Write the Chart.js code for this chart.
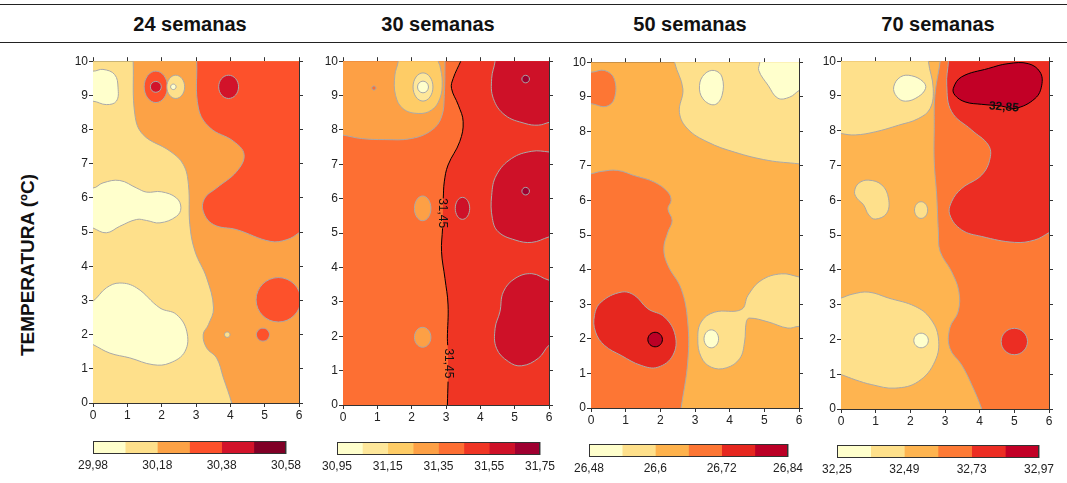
<!DOCTYPE html>
<html>
<head>
<meta charset="utf-8">
<script src="https://cdn.jsdelivr.net/npm/chart.js@4.4.0/dist/chart.umd.min.js"></script>
<style>
  body { margin: 0; width: 1067px; height: 483px; background: #fff; position: relative; overflow: hidden; font-family: 'Liberation Sans', Arial, sans-serif; }
  .rule { position: absolute; left: 0; width: 1067px; height: 0; border-top: 1.6px solid #222; }
  .title { position: absolute; top: 13px; width: 200px; text-align: center; font-weight: bold; font-size: 20px; color: #111; }
  .ylab { position: absolute; left: -82px; top: 253px; width: 220px; height: 24px; line-height: 24px; text-align: center; font-weight: bold; font-size: 19px; color: #111; transform: rotate(-90deg); }
  canvas { position: absolute; }
</style>
</head>
<body>
<div class="rule" style="top:4px"></div>
<div class="rule" style="top:42px"></div>
<div class="title" style="left:90px">24 semanas</div>
<div class="title" style="left:338px">30 semanas</div>
<div class="title" style="left:590px">50 semanas</div>
<div class="title" style="left:838px">70 semanas</div>
<div class="ylab">TEMPERATURA (ºC)</div>

<script>
// ---- data -------------------------------------------------------------
const xTicks = [0, 1, 2, 3, 4, 5, 6];
const yTicks = [0, 1, 2, 3, 4, 5, 6, 7, 8, 9, 10];

// 24 semanas
const levels24 = [29.98, 30.08, 30.18, 30.28, 30.38, 30.48, 30.58];
const labels24 = ['29,98', '', '30,18', '', '30,38', '', '30,58'];
const colors24 = ['#ffffcc', '#fee08b', '#fca246', '#fd512b', '#d2132a', '#800026'];
const dark24 = [30.48];
const regions24 = [
  { lvl: 1, kind: 'rect', pts: [[-1, -1], [7, -1], [7, 11], [-1, 11]] },
  { lvl: 2, kind: 'open', pts: [[1.15, 10.5], [1.17, 10], [1.22, 8.44], [1.46, 7.85], [2.24, 7.37], [2.63, 6.98], [2.78, 6.39], [2.82, 5.22], [2.97, 4.44], [3.31, 3.66], [3.51, 2.78], [3.36, 2.29], [3.21, 2.0], [3.31, 1.61], [3.60, 1.32], [3.80, 0.73], [4.04, 0], [4.12, -0.4], [6.6, -0.6], [6.6, 10.6]] },
  { lvl: 3, kind: 'open', pts: [[3.0, 10.5], [3.02, 10], [3.07, 8.63], [3.41, 8.05], [4.09, 7.66], [4.40, 7.27], [4.19, 6.78], [3.60, 6.29], [3.26, 6.0], [3.21, 5.61], [3.51, 5.22], [4.19, 5.07], [5.16, 4.73], [5.65, 4.78], [6, 4.98], [6.4, 5.3], [6.6, 10.6]] },
  { lvl: 3, kind: 'oval', pts: [[4.75, 3.02], [5.40, 3.67], [6.05, 3.02], [5.40, 2.37]] },
  { lvl: 3, kind: 'oval', pts: [[4.76, 2.0], [4.95, 2.19], [5.14, 2.0], [4.95, 1.81]] },
  { lvl: 1, kind: 'oval', pts: [[3.83, 2.0], [3.91, 2.08], [3.99, 2.0], [3.91, 1.92]] },
  { lvl: 3, kind: 'oval', pts: [[1.49, 9.25], [1.83, 9.71], [2.17, 9.25], [1.83, 8.79]] },
  { lvl: 4, kind: 'oval', pts: [[1.67, 9.25], [1.83, 9.41], [1.99, 9.25], [1.83, 9.09]] },
  { lvl: 1, kind: 'oval', pts: [[2.15, 9.25], [2.41, 9.59], [2.67, 9.25], [2.41, 8.91]] },
  { lvl: 0, kind: 'oval', pts: [[2.26, 9.25], [2.34, 9.33], [2.42, 9.25], [2.34, 9.17]] },
  { lvl: 4, kind: 'oval', pts: [[3.66, 9.25], [3.95, 9.59], [4.24, 9.25], [3.95, 8.91]] },
  { lvl: 0, kind: 'open', pts: [[-0.4, 9.8], [0, 9.71], [0.29, 9.76], [0.63, 9.61], [0.73, 9.22], [0.68, 8.83], [0.39, 8.73], [0, 8.83], [-0.4, 8.8]] },
  { lvl: 0, kind: 'open', pts: [[-0.4, 6.4], [0, 6.29], [0.29, 6.44], [0.78, 6.51], [1.27, 6.29], [1.56, 6.17], [1.99, 6.18], [2.43, 6.0], [2.56, 5.71], [2.43, 5.46], [1.95, 5.27], [1.56, 5.34], [1.27, 5.37], [0.78, 5.17], [0.39, 4.98], [0, 5.12], [-0.4, 5.3]] },
  { lvl: 0, kind: 'open', pts: [[-0.4, 2.8], [0, 2.98], [0.39, 3.37], [0.78, 3.51], [1.27, 3.37], [1.95, 2.78], [2.43, 2.59], [2.73, 2.10], [2.68, 1.51], [2.24, 1.17], [1.75, 1.12], [1.07, 1.32], [0.49, 1.46], [0, 1.71], [-0.4, 1.9]] }
];
const text24 = [];

// 30 semanas
const levels30 = [30.95, 31.05, 31.15, 31.25, 31.35, 31.45, 31.55, 31.65, 31.75];
const labels30 = ['30,95', '', '31,15', '', '31,35', '', '31,55', '', '31,75'];
const colors30 = ['#ffffcc', '#fee79a', '#fecc66', '#fda045', '#fd6f33', '#ef3524', '#ce1128', '#9e0030'];
const dark30 = [31.45];
const line3145a = [[3.43, 10], [3.21, 9.5], [3.16, 9.21], [3.36, 8.72], [3.50, 8.24], [3.40, 7.66], [3.06, 6.98], [2.95, 6.49], [2.92, 6.01]];
const line3145b = [[2.90, 5.14], [2.87, 4.46], [2.97, 3.68], [3.06, 2.91], [3.04, 1.94], [3.05, 1.74]];
const line3145c = [[3.06, 0.68], [3.04, 0]];
const regions30 = [
  { lvl: 4, kind: 'rect', pts: [[-1, -1], [7, -1], [7, 11], [-1, 11]] },
  { lvl: 3, kind: 'open', pts: [[-0.4, 7.9], [0, 7.85], [0.54, 7.75], [1.22, 7.72], [1.99, 7.75], [2.58, 7.99], [2.87, 8.38], [2.95, 9.01], [2.97, 10], [2.97, 10.5], [-0.5, 10.5]] },
  { lvl: 2, kind: 'open', pts: [[1.62, 10.4], [1.61, 10], [1.51, 9.59], [1.53, 9.01], [1.75, 8.62], [2.19, 8.48], [2.58, 8.58], [2.82, 8.91], [2.89, 9.40], [2.82, 9.88], [2.77, 10], [2.75, 10.4]] },
  { lvl: 1, kind: 'oval', pts: [[2.04, 9.25], [2.33, 9.66], [2.62, 9.25], [2.33, 8.84]] },
  { lvl: 0, kind: 'oval', pts: [[2.17, 9.25], [2.33, 9.42], [2.49, 9.25], [2.33, 9.08]] },
  { lvl: 4, kind: 'oval', pts: [[0.84, 9.22], [0.9, 9.28], [0.96, 9.22], [0.9, 9.16]] },
  { lvl: 5, kind: 'open', noStroke: true, pts: [[3.46, 10.4]].concat(line3145a, [[2.91, 5.62]], line3145b, [[3.06, 1.26]], line3145c, [[3.02, -0.5], [6.6, -0.6], [6.6, 10.6]]) },
  { lvl: 6, kind: 'open', pts: [[4.45, 10.4], [4.43, 10], [4.33, 9.50], [4.38, 8.91], [4.72, 8.43], [5.30, 8.19], [5.69, 8.14], [6, 8.22], [6.4, 8.3], [6.5, 10.5]] },
  { lvl: 7, kind: 'oval', pts: [[5.21, 9.48], [5.32, 9.59], [5.43, 9.48], [5.32, 9.37]] },
  { lvl: 6, kind: 'open', pts: [[6.4, 7.3], [6, 7.36], [5.50, 7.38], [4.91, 7.17], [4.47, 6.69], [4.33, 6.10], [4.35, 5.43], [4.52, 5.04], [5.01, 4.80], [5.50, 4.73], [6, 4.89], [6.4, 5.0]] },
  { lvl: 7, kind: 'oval', pts: [[5.21, 6.22], [5.32, 6.33], [5.43, 6.22], [5.32, 6.11]] },
  { lvl: 6, kind: 'open', pts: [[6.4, 3.6], [6, 3.63], [5.50, 3.82], [5.01, 3.68], [4.67, 3.29], [4.57, 2.71], [4.43, 2.23], [4.47, 1.65], [4.82, 1.26], [5.20, 1.14], [5.69, 1.36], [6, 1.74], [6.4, 2.0]] },
  { lvl: 6, kind: 'oval', pts: [[3.27, 5.72], [3.48, 6.04], [3.69, 5.72], [3.48, 5.40]] },
  { lvl: 3, kind: 'oval', pts: [[2.08, 5.72], [2.32, 6.08], [2.56, 5.72], [2.32, 5.36]] },
  { lvl: 3, kind: 'oval', pts: [[2.08, 1.97], [2.32, 2.26], [2.56, 1.97], [2.32, 1.68]] },
  { line: true, pts: line3145a },
  { line: true, pts: line3145b },
  { line: true, pts: line3145c }
];
const text30 = [
  { x: 2.88, y: 5.58, text: '31,45', rot: Math.PI / 2, bold: false },
  { x: 3.08, y: 1.21, text: '31,45', rot: Math.PI / 2, bold: false }
];

// 50 semanas
const levels50 = [26.48, 26.54, 26.60, 26.66, 26.72, 26.78, 26.84];
const labels50 = ['26,48', '', '26,6', '', '26,72', '', '26,84'];
const colors50 = ['#ffffcc', '#fee08b', '#feb24c', '#fd7634', '#e6271f', '#bb0026'];
const dark50 = [26.78];
const regions50 = [
  { lvl: 2, kind: 'rect', pts: [[-1, -1], [7, -1], [7, 11], [-1, 11]] },
  { lvl: 3, kind: 'open', pts: [[-0.4, 9.75], [0, 9.71], [0.39, 9.76], [0.67, 9.52], [0.67, 8.94], [0.43, 8.72], [0, 8.80], [-0.4, 8.8]] },
  { lvl: 1, kind: 'open', pts: [[2.40, 10.4], [2.41, 10], [2.65, 9.23], [2.55, 8.55], [2.79, 8.07], [3.37, 7.69], [4.14, 7.40], [5.11, 7.16], [6, 7.06], [6.4, 7.0], [6.5, 10.5]] },
  { lvl: 0, kind: 'loop', pts: [[3.13, 9.33], [3.28, 9.66], [3.56, 9.76], [3.78, 9.57], [3.78, 9.04], [3.56, 8.77], [3.23, 8.94]] },
  { lvl: 0, kind: 'open', pts: [[4.88, 10.4], [4.87, 10], [4.84, 9.76], [5.11, 9.33], [5.39, 8.96], [5.73, 8.99], [6, 9.18], [6.4, 9.4], [6.5, 10.5]] },
  { lvl: 3, kind: 'open', pts: [[-0.4, 6.7], [0, 6.77], [0.29, 6.84], [0.77, 6.87], [1.25, 6.72], [1.83, 6.53], [2.22, 6.24], [2.31, 6.0], [2.22, 5.76], [2.34, 5.42], [2.22, 5.09], [2.10, 4.61], [2.22, 4.12], [2.60, 3.45], [2.79, 2.49], [2.79, 1.33], [2.60, 0], [2.55, -0.4], [-0.5, -0.5]] },
  { lvl: 4, kind: 'loop', pts: [[0.10, 2.68], [0.29, 3.06], [0.87, 3.35], [1.25, 3.26], [1.64, 2.87], [2.12, 2.63], [2.43, 2.10], [2.36, 1.52], [1.93, 1.18], [1.45, 1.23], [0.87, 1.52], [0.39, 1.81], [0.13, 2.20]] },
  { lvl: 5, kind: 'oval', stroke: '#000', pts: [[1.64, 1.98], [1.85, 2.19], [2.06, 1.98], [1.85, 1.77]] },
  { lvl: 1, kind: 'loop', pts: [[3.08, 2.0], [3.18, 2.49], [3.56, 2.77], [4.34, 2.85], [4.53, 3.26], [4.91, 3.69], [5.49, 3.88], [6, 3.79], [6.4, 3.7], [6.4, 2.3], [6, 2.36], [5.68, 2.31], [5.11, 2.49], [4.57, 2.60], [4.48, 2.49], [4.43, 1.91], [4.29, 1.43], [3.90, 1.16], [3.47, 1.18], [3.18, 1.47]] },
  { lvl: 0, kind: 'oval', pts: [[3.26, 2.0], [3.47, 2.26], [3.68, 2.0], [3.47, 1.74]] }
];
const text50 = [];

// 70 semanas
const levels70 = [32.25, 32.37, 32.49, 32.61, 32.73, 32.85, 32.97];
const labels70 = ['32,25', '', '32,49', '', '32,73', '', '32,97'];
const colors70 = ['#ffffcc', '#fee08b', '#feb450', '#fd7a35', '#ec2d23', '#c20026'];
const dark70 = [32.85];
const regions70 = [
  { lvl: 2, kind: 'rect', pts: [[-1, -1], [7, -1], [7, 11], [-1, 11]] },
  { lvl: 3, kind: 'open', pts: [[2.88, 10.4], [2.86, 10], [2.71, 9.02], [2.69, 8.07], [2.69, 7.11], [2.76, 6.15], [2.81, 5.10], [2.86, 4.53], [3.19, 3.95], [3.40, 3.38], [3.38, 2.80], [3.14, 2.33], [3.14, 1.75], [3.48, 1.27], [3.77, 0.70], [4.06, 0], [4.15, -0.4], [6.6, -0.6], [6.6, 10.6]] },
  { lvl: 4, kind: 'open', pts: [[3.12, 10.4], [3.10, 10], [3.05, 9.31], [3.19, 8.55], [3.77, 8.02], [4.25, 7.59], [4.30, 7.21], [4.06, 6.73], [3.48, 6.34], [3.19, 5.96], [3.14, 5.58], [3.48, 5.15], [4.06, 4.96], [5.01, 4.79], [5.59, 4.86], [6, 5.07], [6.4, 5.3], [6.6, 10.6]] },
  { lvl: 5, kind: 'loop', stroke: '#000', pts: [[3.24, 9.22], [3.48, 9.55], [4.25, 9.79], [4.82, 9.93], [5.40, 9.93], [5.74, 9.69], [5.79, 9.31], [5.60, 8.93], [5.02, 8.64], [4.63, 8.71], [4.06, 8.76], [3.58, 8.83], [3.29, 9.02]] },
  { lvl: 4, kind: 'oval', pts: [[4.62, 1.94], [5.0, 2.32], [5.38, 1.94], [5.0, 1.56]] },
  { lvl: 1, kind: 'open', pts: [[-0.5, 10.5], [2.52, 10.5], [2.52, 10], [2.66, 9.22], [2.57, 8.64], [2.23, 8.35], [1.66, 8.16], [0.99, 7.97], [0.41, 7.88], [0, 7.92], [-0.4, 8.0]] },
  { lvl: 0, kind: 'loop', pts: [[1.52, 9.26], [1.72, 9.55], [2.04, 9.58], [2.37, 9.41], [2.44, 9.22], [2.23, 8.98], [1.86, 8.85], [1.61, 8.98]] },
  { lvl: 1, kind: 'loop', pts: [[0.39, 6.25], [0.51, 6.49], [0.80, 6.58], [1.18, 6.44], [1.37, 6.06], [1.32, 5.63], [0.99, 5.46], [0.80, 5.58], [0.65, 5.87], [0.46, 6.06]] },
  { lvl: 1, kind: 'oval', pts: [[2.12, 5.72], [2.31, 5.96], [2.50, 5.72], [2.31, 5.48]] },
  { lvl: 1, kind: 'open', pts: [[-0.4, 3.1], [0, 3.19], [0.32, 3.30], [0.80, 3.36], [1.37, 3.19], [2.14, 2.95], [2.57, 2.61], [2.81, 2.04], [2.71, 1.37], [2.23, 0.79], [1.56, 0.60], [0.89, 0.70], [0.41, 0.84], [0, 0.99], [-0.4, 1.1]] },
  { lvl: 0, kind: 'oval', pts: [[2.10, 1.97], [2.31, 2.18], [2.52, 1.97], [2.31, 1.76]] }
];
const text70 = [
  { x: 4.70, y: 8.68, text: '32,85', rot: 0.08, bold: true }
];

// ---- layout -------------------------------------------------------------
const panels = [
  { area: [93, 61, 206, 342], bar: [93, 441, 193], regions: regions24, colors: colors24, levels: levels24, labels: labels24, dark: dark24, text: text24 },
  { area: [343, 61, 206, 344], bar: [337, 442, 203], regions: regions30, colors: colors30, levels: levels30, labels: labels30, dark: dark30, text: text30 },
  { area: [591, 62, 208, 346], bar: [589, 444, 199], regions: regions50, colors: colors50, levels: levels50, labels: labels50, dark: dark50, text: text50 },
  { area: [841, 61, 208, 348], bar: [837, 445, 202], regions: regions70, colors: colors70, levels: levels70, labels: labels70, dark: dark70, text: text70 }
];

const FONT = "'Liberation Sans', Arial, sans-serif";
const AX_L = 28, AX_T = 8, AX_R = 8, AX_B = 22;
const CLEAR = 'rgba(0,0,0,0)';

function makeCanvas(left, top, w, h) {
  const c = document.createElement('canvas');
  c.width = w; c.height = h;
  c.style.left = left + 'px'; c.style.top = top + 'px';
  c.style.width = w + 'px'; c.style.height = h + 'px';
  document.body.appendChild(c);
  return c;
}

function regionDataset(r, colors) {
  if (r.line) {
    return {
      data: r.pts.map(p => ({ x: p[0], y: p[1] })),
      showLine: true, fill: false, pointRadius: 0, pointHoverRadius: 0, pointHitRadius: 0,
      borderColor: '#000', borderWidth: 1, tension: 0.4
    };
  }
  const wrapped = r.kind === 'loop' || r.kind === 'oval';
  // closed curves: repeat the first points so every stroked piece has neighbours on both sides
  let pts = r.pts;
  if (wrapped) pts = pts.concat([pts[0], pts[1], pts[2]]);
  const last = pts.length - 2;
  const stroke = r.kind === 'rect' || r.noStroke ? CLEAR : (r.stroke || '#a9a9a9');
  return {
    data: pts.map(p => ({ x: p[0], y: p[1] })),
    showLine: true, fill: 'shape', pointRadius: 0, pointHoverRadius: 0, pointHitRadius: 0,
    backgroundColor: colors[r.lvl],
    borderColor: stroke,
    borderWidth: 1,
    tension: r.kind === 'oval' ? 0.55 : (r.kind === 'rect' ? 0 : 0.4),
    segment: wrapped ? { borderColor: ctx => (ctx.p0DataIndex === 0 || ctx.p0DataIndex === last) ? CLEAR : undefined } : undefined
  };
}

function textPlugin(items) {
  return {
    id: 'contourText',
    afterDatasetsDraw(chart) {
      const ctx = chart.ctx;
      const xs = chart.scales.x, ys = chart.scales.y;
      items.forEach(t => {
        ctx.save();
        ctx.translate(xs.getPixelForValue(t.x), ys.getPixelForValue(t.y));
        ctx.rotate(t.rot);
        ctx.font = (t.bold ? 'bold ' : '') + '12px ' + FONT;
        ctx.fillStyle = '#111';
        ctx.textAlign = 'center';
        ctx.textBaseline = 'middle';
        ctx.fillText(t.text, 0, 0);
        ctx.restore();
      });
    }
  };
}

function axis(pos, isX, labels, size) {
  return {
    type: 'linear', position: pos,
    min: 0, max: isX ? 6 : 10,
    afterBuildTicks: s => { s.ticks = (isX ? xTicks : yTicks).map(v => ({ value: v })); },
    afterFit: s => { if (isX) s.height = size; else s.width = size; },
    grid: { drawOnChartArea: false, drawTicks: true, tickLength: 4, color: '#333' },
    border: { display: true, color: '#333', width: 1 },
    ticks: { display: labels, font: { size: 12, family: FONT }, color: '#222', padding: 1, autoSkip: false, maxRotation: 0 }
  };
}

panels.forEach(p => {
  const [L, T, W, H] = p.area;
  const cv = makeCanvas(L - AX_L, T - AX_T, W + AX_L + AX_R, H + AX_T + AX_B);
  const datasets = p.regions.map(r => regionDataset(r, p.colors)).reverse();
  new Chart(cv, {
    type: 'scatter',
    data: { datasets },
    options: {
      responsive: false, animation: false, events: [],
      layout: { padding: 0 },
      elements: { line: { capBezierPoints: false } },
      plugins: { legend: { display: false }, tooltip: { enabled: false } },
      scales: {
        x: axis('bottom', true, true, AX_B),
        x2: axis('top', true, false, AX_T),
        y: axis('left', false, true, AX_L),
        y2: axis('right', false, false, AX_R)
      }
    },
    plugins: [textPlugin(p.text)]
  });

  // colour bar
  const [bl, bt, bw] = p.bar;
  const pad = 32;
  const cb = makeCanvas(bl - pad, bt, bw + 2 * pad, 34);
  const segs = p.colors.map((c, i) => ({
    data: [[p.levels[i], p.levels[i + 1]]],
    backgroundColor: c, borderWidth: 0,
    grouped: false, barPercentage: 1, categoryPercentage: 1
  }));
  new Chart(cb, {
    type: 'bar',
    data: { labels: [''], datasets: segs },
    options: {
      indexAxis: 'y', responsive: false, animation: false, events: [],
      layout: { padding: { left: pad, right: pad, top: 0, bottom: 0 } },
      plugins: { legend: { display: false }, tooltip: { enabled: false } },
      scales: {
        y: { display: false },
        x: {
          type: 'linear', min: p.levels[0], max: p.levels[p.levels.length - 1],
          afterBuildTicks: s => { s.ticks = p.levels.map(v => ({ value: v })); },
          afterFit: s => { s.height = 21; },
          grid: { drawOnChartArea: true, drawTicks: false, lineWidth: 1,
                  color: c => (p.dark.indexOf(p.levels[c.index]) >= 0 ? '#222' : '#a0a0a0') },
          border: { display: false },
          ticks: { callback: (v, i) => p.labels[i], font: { size: 12, family: FONT }, color: '#222', padding: 4, autoSkip: false, maxRotation: 0 }
        }
      }
    },
    plugins: [{
      id: 'frame',
      afterDraw(chart) {
        const a = chart.chartArea, ctx = chart.ctx;
        ctx.save();
        ctx.strokeStyle = '#333'; ctx.lineWidth = 1;
        ctx.strokeRect(Math.round(a.left) + 0.5, Math.round(a.top) + 0.5, Math.round(a.right - a.left) - 1, Math.round(a.bottom - a.top) - 1);
        ctx.restore();
      }
    }]
  });
});
</script>
</body>
</html>
